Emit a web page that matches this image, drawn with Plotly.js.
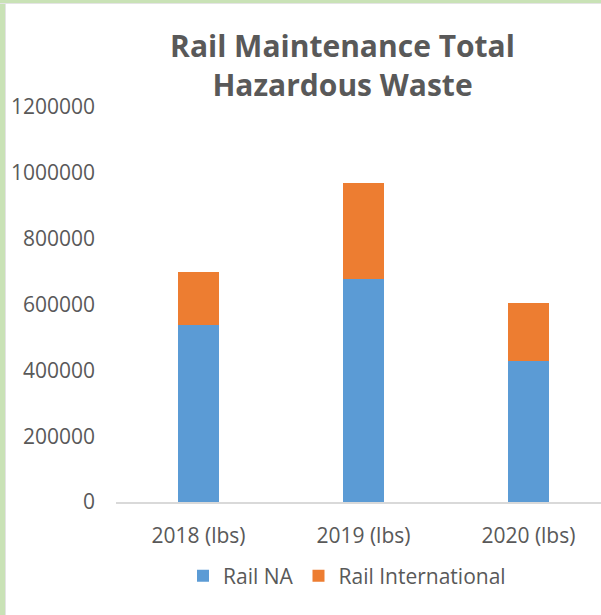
<!DOCTYPE html>
<html>
<head>
<meta charset="utf-8">
<script src="https://cdn.plot.ly/plotly-3.0.1.min.js"></script>
<style>
  html, body { margin: 0; padding: 0; background: #ffffff; }
  #chart { width: 601px; height: 615px; position: relative; }
  #edgeL { position: absolute; left: 0; top: 0; width: 5px; height: 615px; background: #c9e2b6; border-right: 1px solid #e4e4e4; z-index: 5; }
  #edgeT { position: absolute; left: 0; top: 0; width: 601px; height: 3px; background: #c9e2b6; border-bottom: 1px solid #e4e4e4; z-index: 5; }
</style>
</head>
<body>
<div id="chart"></div>
<div id="edgeL"></div>
<div id="edgeT"></div>
<script>
const categories = ["2018 (lbs)", "2019 (lbs)", "2020 (lbs)"];
const railNA = [537000, 677000, 429000];
const railInternational = [163000, 293000, 175000];
const seriesNames = ["Rail NA", "Rail International"];
const yTicks = [0, 200000, 400000, 600000, 800000, 1000000, 1200000];
const yTickLabels = ["0", "200000", "400000", "600000", "800000", "1000000", "1200000"];

const textColor = "#595959";
const fontFam = "'Open Sans', sans-serif";

const traces = [
  { type: "bar", name: seriesNames[0], x: categories, y: railNA,
    marker: { color: "#5b9bd5" }, width: 0.25, hoverinfo: "skip" },
  { type: "bar", name: seriesNames[1], x: categories, y: railInternational,
    marker: { color: "#ed7d31" }, width: 0.25, hoverinfo: "skip" }
];

const layout = {
  width: 601, height: 615,
  margin: { l: 116, r: 0, t: 107, b: 113, pad: 0 },
  paper_bgcolor: "#ffffff", plot_bgcolor: "#ffffff",
  barmode: "stack",
  font: { family: fontFam, color: textColor, size: 21 },
  title: {
    text: "<b>Rail Maintenance Total<br>Hazardous Waste</b>",
    font: { family: fontFam, size: 30, color: textColor },
    xref: "container", x: 342.5 / 601, xanchor: "center",
    yref: "container", y: 1 - 57 / 615, yanchor: "middle"
  },
  xaxis: {
    type: "category", range: [-0.5, 2.44],
    showline: true, linecolor: "#d9d9d9", linewidth: 1.5,
    showgrid: false, zeroline: false, ticks: "",
    tickfont: { family: fontFam, size: 21, color: textColor },
    ticklabelstandoff: 14, fixedrange: true
  },
  yaxis: {
    range: [0, 1200000], tickmode: "array", tickvals: yTicks, ticktext: yTickLabels,
    showline: false, showgrid: false, zeroline: false, ticks: "",
    tickfont: { family: fontFam, size: 21, color: textColor },
    ticklabelstandoff: 20, fixedrange: true
  },
  showlegend: true,
  legend: {
    orientation: "h", xref: "container", x: 347 / 601, xanchor: "center",
    yref: "container", y: 1 - 576 / 615, yanchor: "middle",
    font: { family: fontFam, size: 21, color: textColor },
    itemwidth: 30, traceorder: "normal", bgcolor: "rgba(0,0,0,0)"
  }
};

Plotly.newPlot("chart", traces, layout, { displayModeBar: false, staticPlot: true });
</script>
</body>
</html>
